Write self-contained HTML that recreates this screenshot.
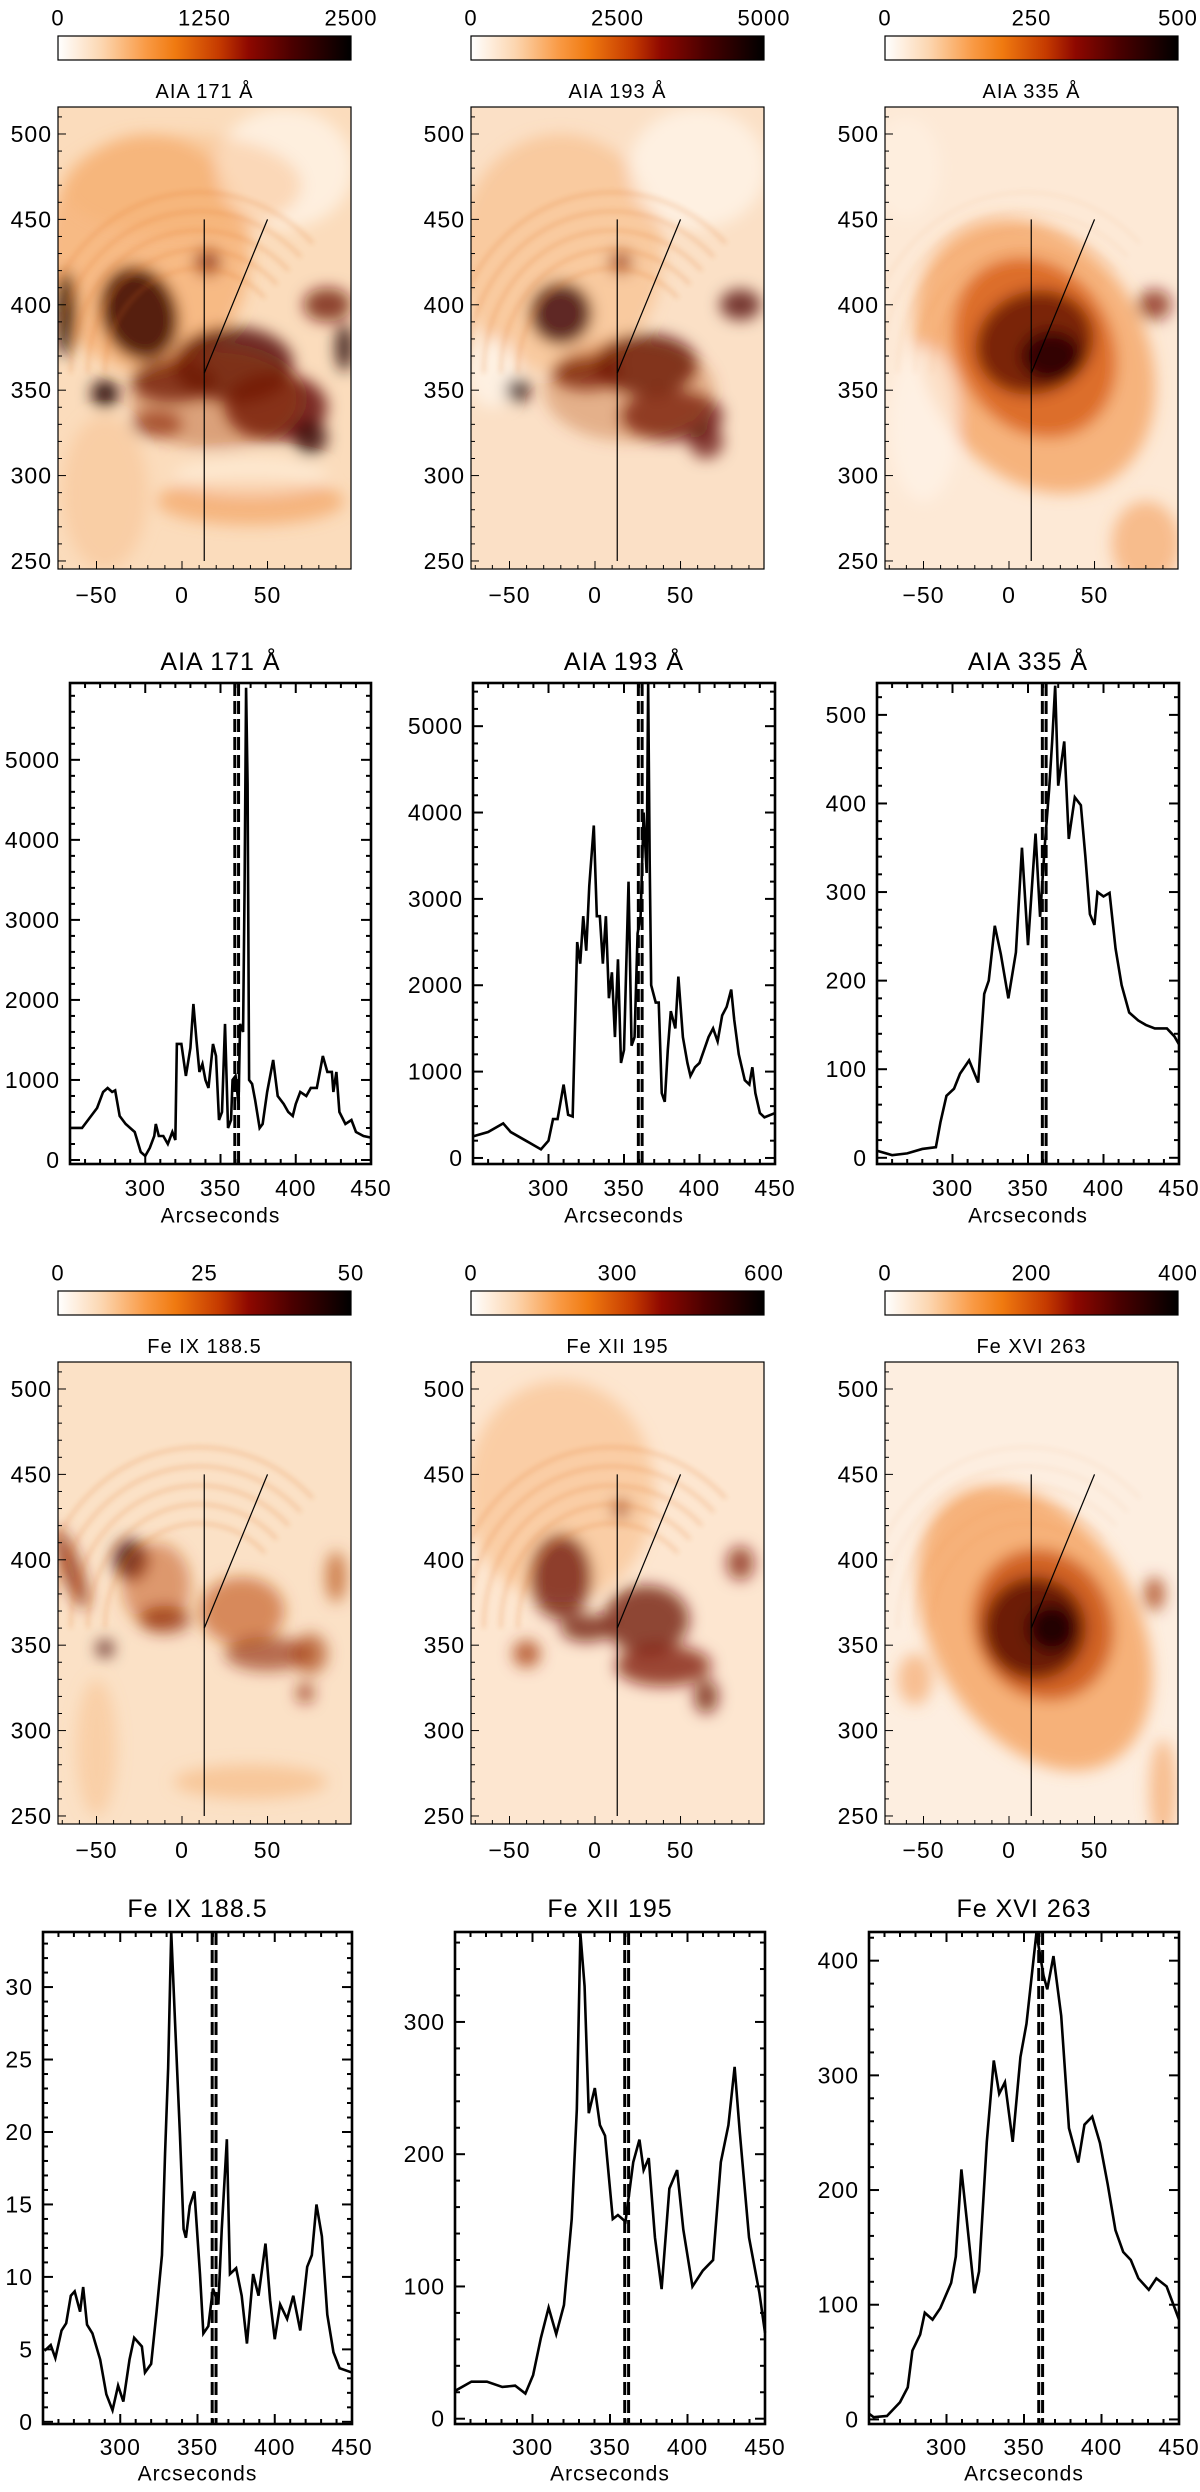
<!DOCTYPE html>
<html><head><meta charset="utf-8">
<style>
html,body{margin:0;padding:0;background:#fff;}
svg text{font-family:"Liberation Sans",sans-serif;fill:#000;letter-spacing:1px;}
</style></head>
<body>
<svg id="fig" xmlns="http://www.w3.org/2000/svg" width="1200" height="2487" viewBox="0 0 1200 2487">
<defs>
<linearGradient id="cmap" x1="0" x2="1" y1="0" y2="0">
<stop offset="0" stop-color="#ffffff"/><stop offset="0.15" stop-color="#fcd6b0"/>
<stop offset="0.3" stop-color="#f99a45"/><stop offset="0.4" stop-color="#f07a10"/>
<stop offset="0.55" stop-color="#c53a00"/><stop offset="0.65" stop-color="#8e0800"/>
<stop offset="0.8" stop-color="#4a0000"/><stop offset="1" stop-color="#000000"/>
</linearGradient>
<filter id="blur" x="-50%" y="-50%" width="200%" height="200%"><feGaussianBlur stdDeviation="4.5"/></filter>
<filter id="blur2" x="-50%" y="-50%" width="200%" height="200%"><feGaussianBlur stdDeviation="1.5"/></filter>
</defs>
</svg>
<script>
// ---- Profile data (x in arcsec, y in intensity) ----
const aia171X = [250,258,262,268,272,275,278,280,283,287,290,293,297,300,303,306,307,309,312,315,318,320,321,324,327,330,332,334,336,338,340,342,345,347,349,351,353,355,357,358,360,362,363,365,366,367,368,369,371,373,376,378,381,385,388,392,395,398,400,403,407,410,414,418,421,424,425,427,429,433,437,440,445,450];
const aia171Y = [400,400,500,650,850,900,850,870,550,450,400,350,100,50,150,300,450,300,300,200,350,250,1450,1450,1050,1400,1950,1500,1100,1200,1000,900,1450,1300,500,600,1700,400,500,1000,1050,700,1700,1600,3400,5900,4700,1000,950,750,400,450,850,1250,800,700,600,550,700,850,800,900,900,1300,1100,1100,850,1100,600,450,500,350,300,280];
const aia193X = [250,260,270,275,285,295,300,303,306,310,313,316,319,321,323,325,327,330,332,334,336,338,340,342,344,346,348,350,353,355,357,359,361,363,365,366,367,368,371,373,375,377,379,381,384,386,389,392,394,397,400,403,406,409,412,415,418,421,423,426,430,433,435,437,440,443,450];
const aia193Y = [250,300,400,300,200,100,200,450,450,850,500,480,2500,2250,2800,2400,3150,3850,2800,2800,2250,2800,1850,2150,1400,2300,1100,1250,3200,1300,1400,2600,2800,4000,3300,5500,3450,2000,1800,1800,750,650,1250,1700,1500,2100,1400,1100,950,1050,1100,1250,1400,1500,1350,1650,1750,1950,1600,1200,900,850,1050,750,520,470,520];
const aia335X = [250,260,270,280,289,292,296,301,305,311,317,321,324,328,332,337,342,346,350,355,358,361,364,366,368,370,374,377,381,385,388,391,394,396,400,404,408,412,417,423,428,434,442,447,450];
const aia335Y = [8,3,5,10,12,40,70,78,95,110,85,185,200,262,230,180,232,350,240,366,272,350,416,470,533,420,470,360,407,398,340,275,263,300,295,299,236,195,164,155,150,146,146,137,128];
const feixX = [251,255,258,262,265,268,270.5,274,276,278.5,282,287,291,295,298.6,302,306,309,314,316,320,323.5,327,329,331,333,335.5,338.6,341,342.5,345,348,351.6,353.8,357,360,363.5,365.7,369,371,375,378.6,382,386,389.5,394,397,400,403.5,408,412,416.5,421,424,427,430.5,434,438,442,450];
const feixY = [4.9,5.3,4.4,6.3,6.8,8.7,9,7.6,9.3,6.7,6.1,4.3,1.9,0.8,2.5,1.4,4.3,5.8,5.2,3.4,4,7.6,11.5,18.5,24.4,33.8,27.5,19.9,13.3,12.7,14.9,15.9,10.2,6.1,6.6,9.2,8.1,13.3,19.5,10.2,10.6,8.7,5.4,10.2,8.7,12.3,8.4,5.7,8.1,7.1,8.7,6.3,10.7,11.5,15,12.8,7.4,4.8,3.7,3.4];
const fexiiX = [250,260.6,270.6,280.5,288.8,295.4,300.4,305.4,310.4,315.3,320.3,325.3,328.6,330.9,333.6,336.3,340.2,343.5,346.8,351.8,355.1,360,365,369,371.7,375,379,383.3,388.3,393.3,397.3,403.2,409.9,416.5,421.5,426.4,430.4,433.7,439.7,446.4,450];
const fexiiY = [21,28,28,24,25,19,33,61,84,64,86,151,234,367,327,231,250,222,214,151,154,149,194,211,188,197,137,98,174,188,143,100,112,120,194,222,266,217,137,95,65];
const fexviX = [250,253,261.6,270,275,278,283,286,291,296,303,306,309.6,313,318,321,326,330.5,334,337.7,342.7,347.7,351.6,355,358,362.6,365,369,374,379,385,389,394,399,404,409,414,418.9,423.8,430.5,435.4,442,450];
const fexviY = [5,2,3,15,28,60,74,93,87,97,119,142,218,175,110,129,242,313,284,294,242,316,345,387,424,387,375,404,352,254,224,257,264,241,205,165,146,139,123,113,123,116,87];
const xTickLabels = [300,350,400,450];
const imgXTicks = [-50,0,50];
const imgYTicks = [250,300,350,400,450,500];
const slitPositions = [359.5,362];

const svg = document.getElementById('fig');
const NS = 'http://www.w3.org/2000/svg';
function mk(tag, attrs, parent){
  const e = document.createElementNS(NS, tag);
  for (const k in attrs) e.setAttribute(k, attrs[k]);
  (parent||svg).appendChild(e);
  return e;
}
function txt(s, x, y, size, anchor, parent){
  const t = mk('text', {x:x, y:y, 'font-size':size, 'text-anchor':anchor||'middle', 'dominant-baseline':'central'}, parent);
  t.textContent = s;
  return t;
}

function colorbar(x0, y0, w, labels, nm){
  const g = mk('g', {});
  
  
  mk('rect', {x:x0, y:y0, width:w, height:24, fill:'url(#cmap)', stroke:'#000', 'stroke-width':1.2}, g);
  const xs = [x0, x0+w/2, x0+w];
  labels.forEach((l,i)=>{ const t = txt(l, xs[i], y0-18, 22, 'middle', g);
    
     });
}

const blobs = {
  a171: {bg:'#fbdcbc', b:[
    [-20,430,60,70,0,'#f29040',.45],[60,480,40,35,0,'#fff6ec',.7],[-45,290,25,45,0,'#f8c090',.5],
    [40,285,55,14,0,'#f09040',.5],[40,300,45,10,0,'#fff1e0',.6],[0,470,70,30,0,'#f6b070',.35],
    [-25,395,22,28,-20,'#3a0000',.85],[30,365,35,22,0,'#4a0500',.8],[55,340,30,20,0,'#5a0800',.8],
    [75,322,10,10,0,'#300000',.8],[-5,355,25,12,0,'#500500',.75],[-45,348,8,8,0,'#200000',.9],
    [-68,395,6,25,0,'#200000',.85],[95,375,5,14,0,'#200000',.85],[85,400,14,10,0,'#6a1000',.75],
    [15,425,8,8,0,'#7a1500',.6],[-15,330,15,8,0,'#7a1500',.6],[20,345,50,30,0,'#a03000',.35]]},
  a193: {bg:'#fbe0c6', b:[
    [-20,430,60,70,0,'#f5a864',.4],[60,480,40,35,0,'#fff6ec',.7],[-60,360,15,20,0,'#fff6ec',.7],
    [-20,395,18,18,0,'#3a0000',.8],[30,365,30,18,0,'#4a0500',.8],[45,335,30,15,0,'#5a0800',.75],
    [-5,360,20,10,0,'#5a0800',.75],[-45,350,7,7,0,'#300000',.85],[85,400,12,9,0,'#4a0500',.75],
    [15,425,7,7,0,'#8a2000',.6],[65,320,10,10,0,'#5a0800',.7],[20,350,50,30,0,'#b04000',.3]]},
  a335: {bg:'#fde9d6', b:[
    [15,370,65,85,-30,'#f29040',.6],[15,375,45,55,-30,'#d04800',.65],[15,378,35,30,-20,'#5a0a00',.75],
    [25,370,18,15,0,'#200000',.8],[-50,330,20,45,0,'#fff4e8',.7],[85,400,10,9,0,'#7a1500',.7],
    [80,260,20,25,0,'#f29040',.5],[-60,480,20,30,0,'#fff4e8',.5]]},
  feix: {bg:'#fbe1c6', b:[
    [-65,395,6,25,-20,'#8a2000',.75],[-30,400,10,12,0,'#3a0000',.8],[-15,385,20,25,0,'#c05010',.5],
    [-10,365,15,8,0,'#8a2000',.65],[-45,348,5,5,0,'#400000',.8],[35,370,25,20,0,'#c05010',.6],
    [50,345,25,10,0,'#8a2000',.6],[75,345,10,12,0,'#a03000',.6],[72,322,5,6,0,'#8a2000',.7],
    [90,390,6,15,0,'#b04000',.6],[40,270,45,10,0,'#f4a864',.45],[-50,290,12,40,0,'#f6b070',.35]]},
  fexii: {bg:'#fde6d0', b:[
    [-20,440,55,65,0,'#f5a864',.4],[-20,390,18,25,0,'#6a0a00',.75],[-5,360,15,8,0,'#6a0a00',.75],
    [30,365,25,20,0,'#6a0a00',.75],[40,338,28,12,0,'#7a1000',.75],[65,320,7,10,0,'#6a0a00',.75],
    [-40,345,8,8,0,'#a03000',.7],[85,398,8,10,0,'#7a1000',.7],[15,430,5,6,0,'#8a2000',.6]]},
  fexvi: {bg:'#fdeee0', b:[
    [15,360,60,90,-30,'#f29040',.65],[20,362,40,45,-25,'#c04000',.7],[15,360,30,30,-20,'#4a0500',.75],
    [25,360,14,14,0,'#100000',.8],[85,380,6,10,0,'#a03000',.7],[-55,330,10,15,0,'#f29040',.5],
    [90,265,8,30,0,'#f29040',.5]]}
};
function imagePanel(x0, y0, w, h, title, key, nm){
  const xmin=-72.5, xmax=98.8, ymin=245.3, ymax=515.8;
  const sx = v => x0 + (v-xmin)/(xmax-xmin)*w;
  const sy = v => y0 + (ymax-v)/(ymax-ymin)*h;
  const g = mk('g', {});
  
  
  const t = txt(title, x0+w/2, y0-15, 20, 'middle', g);
  
  
  const inner = mk('svg', {x:x0, y:y0, width:w, height:h, viewBox:`${xmin} ${-ymax} ${xmax-xmin} ${ymax-ymin}`, preserveAspectRatio:'none'}, g);
  const B = blobs[key];
  mk('rect', {x:xmin, y:-ymax, width:xmax-xmin, height:ymax-ymin, fill:B.bg}, inner);
  const bg = mk('g', {filter:'url(#blur)'}, inner);
  B.b.forEach(b=>{
    const e = mk('ellipse', {cx:b[0], cy:-b[1], rx:b[2], ry:b[3], fill:b[5], opacity:b[6], transform:`rotate(${b[4]} ${b[0]} ${-b[1]})`}, bg);
    
    
  });
  const lg = mk('g', {filter:'url(#blur2)', fill:'none', stroke:'#e07020', 'stroke-width':1.6, opacity: key==='a335'||key==='fexvi'?0.08:0.3}, inner);
  [55,65,75,85,95].forEach(r=>{
    mk('path', {d:`M ${10-r} ${-360} A ${r} ${r*1.1} 0 0 1 ${10+r*0.7} ${-360-r*0.8}`}, lg);
  });
  const l1 = mk('line', {x1:sx(13), y1:sy(250), x2:sx(13), y2:sy(450), stroke:'#000', 'stroke-width':1.2}, g);
  
  
  const l2 = mk('line', {x1:sx(13), y1:sy(360), x2:sx(50), y2:sy(450), stroke:'#000', 'stroke-width':1.2}, g);
  
  
  mk('rect', {x:x0, y:y0, width:w, height:h, fill:'none', stroke:'#000', 'stroke-width':1.2}, g);
  for (let v=-70; v<=90; v+=10){
    const L = (v%50===0)?8:4;
    mk('line', {x1:sx(v), y1:y0+h, x2:sx(v), y2:y0+h-L, stroke:'#000', 'stroke-width':1}, g);
  }
  for (let v=250; v<=510; v+=10){
    const L = (v%50===0)?8:4;
    mk('line', {x1:x0, y1:sy(v), x2:x0+L, y2:sy(v), stroke:'#000', 'stroke-width':1}, g);
  }
  imgXTicks.forEach(v=>{ const t = txt(v<0?'\u2212'+(-v):String(v), sx(v), y0+h+26, 23, 'middle', g);
    
     });
  imgYTicks.forEach(v=>{ const t = txt(String(v), x0-6, sy(v), 23, 'end', g);
    
     });
}

function linePlot(x0, x1, y0, y1, ymin, ymax, major, X, Y, title, nm, titleY, labY, axY){
  const sx = v => x0 + (v-250)/(450-250)*(x1-x0);
  const sy = v => y1 - (v-ymin)/(ymax-ymin)*(y1-y0);
  const g = mk('g', {});
  
  
  const t = txt(title, (x0+x1)/2, titleY, 25, 'middle', g);
  
  
  let d = '';
  X.forEach((x,i)=>{ d += (i===0?'M ':' L ') + sx(x) + ' ' + sy(Math.min(Y[i], ymax)); });
  const p = mk('path', {d:d, fill:'none', stroke:'#000', 'stroke-width':2.6, 'stroke-linejoin':'miter'}, g);
  
  
  slitPositions.forEach(s=>{
    const l = mk('line', {x1:sx(s), y1:y0, x2:sx(s), y2:y1, stroke:'#000', 'stroke-width':3, 'stroke-dasharray':'13,5'}, g);
    
    
  });
  const fr = mk('rect', {x:x0, y:y0, width:x1-x0, height:y1-y0, fill:'none', stroke:'#000', 'stroke-width':2.6}, g);
  
  
  for (let v=260; v<=440; v+=10){
    const L = (v%50===0)?10:5;
    mk('line', {x1:sx(v), y1:y1, x2:sx(v), y2:y1-L, stroke:'#000', 'stroke-width':2}, g);
    mk('line', {x1:sx(v), y1:y0, x2:sx(v), y2:y0+L, stroke:'#000', 'stroke-width':2}, g);
  }
  const minor = major/5;
  for (let k=0; k*minor<=ymax; k++){
    const v = k*minor;
    if (v < ymin) continue;
    const L = (k%5===0)?10:5;
    mk('line', {x1:x0, y1:sy(v), x2:x0+L, y2:sy(v), stroke:'#000', 'stroke-width':2}, g);
    mk('line', {x1:x1, y1:sy(v), x2:x1-L, y2:sy(v), stroke:'#000', 'stroke-width':2}, g);
    if (k%5===0){
      const tl = txt(String(Math.round(v)), x0-10, sy(v), 23, 'end', g);
      
      
    }
  }
  xTickLabels.forEach(v=>{ const tl = txt(String(v), sx(v), labY, 23, 'middle', g);
    
     });
  const at = txt('Arcseconds', (x0+x1)/2, axY, 21, 'middle', g);
  
  
}

const IX = [58,471,885], IW = 293;
colorbar(IX[0],36,IW,['0','1250','2500'],'colorbar-aia171');
colorbar(IX[1],36,IW,['0','2500','5000'],'colorbar-aia193');
colorbar(IX[2],36,IW,['0','250','500'],'colorbar-aia335');
imagePanel(IX[0],107,IW,462,'AIA  171  \u00C5','a171','image-aia171');
imagePanel(IX[1],107,IW,462,'AIA  193  \u00C5','a193','image-aia193');
imagePanel(IX[2],107,IW,462,'AIA  335  \u00C5','a335','image-aia335');
linePlot(70,371,683,1164,-50,5960,1000,aia171X,aia171Y,'AIA  171  \u00C5','profile-aia171',662,1188,1216);
linePlot(473,775,683,1164,-70,5500,1000,aia193X,aia193Y,'AIA  193  \u00C5','profile-aia193',662,1188,1216);
linePlot(877,1179,683,1164,-7,536,100,aia335X,aia335Y,'AIA  335  \u00C5','profile-aia335',662,1188,1216);
colorbar(IX[0],1291,IW,['0','25','50'],'colorbar-feix');
colorbar(IX[1],1291,IW,['0','300','600'],'colorbar-fexii');
colorbar(IX[2],1291,IW,['0','200','400'],'colorbar-fexvi');
imagePanel(IX[0],1362,IW,462,'Fe IX  188.5','feix','image-feix');
imagePanel(IX[1],1362,IW,462,'Fe XII 195','fexii','image-fexii');
imagePanel(IX[2],1362,IW,462,'Fe XVI 263','fexvi','image-fexvi');
linePlot(43,352,1932,2424,-0.15,33.8,5,feixX,feixY,'Fe IX  188.5','profile-feix',1909,2447,2474);
linePlot(455,765,1932,2424,-4,368,100,fexiiX,fexiiY,'Fe XII 195','profile-fexii',1909,2447,2474);
linePlot(869,1179,1932,2424,-4,425,100,fexviX,fexviY,'Fe XVI 263','profile-fexvi',1909,2447,2474);
</script>
</body></html>
